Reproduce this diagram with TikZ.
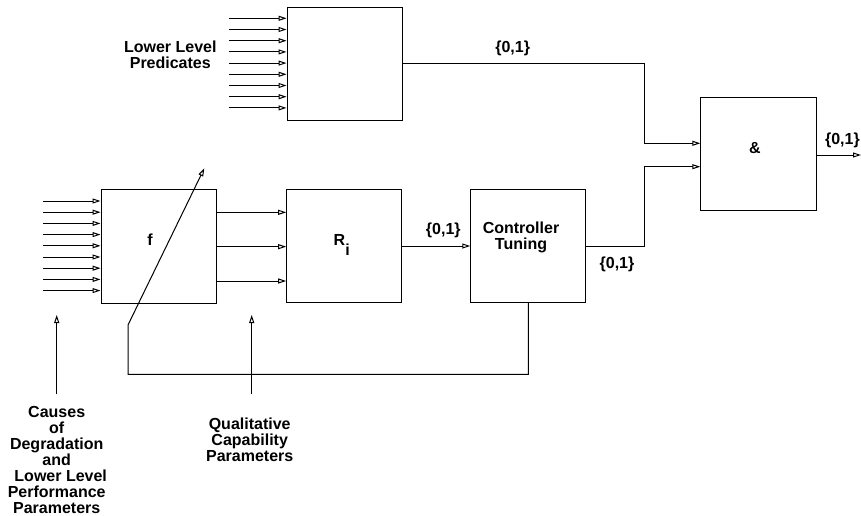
\documentclass[tikz,border=0pt]{standalone}
\usepackage{fontspec}
\setmainfont{Liberation Sans}
\usetikzlibrary{arrows.meta}
\begin{document}
\begin{tikzpicture}[x=1pt,y=-1pt,
  box/.style={draw, line width=1pt, minimum width=115pt, minimum height=113pt, inner sep=0pt},
  lbl/.style={font=\fontsize{16}{16}\selectfont\bfseries, align=center, inner sep=0pt},
  arr/.style={line width=1pt, -{Triangle[open,length=8pt,width=5pt]}},
  ln/.style={line width=1pt}]
\useasboundingbox (0,0) rectangle (861,516);
% boxes
\node[box] (pred) at (344.5,63.7) {};
\node[box, minimum height=114pt] (f) at (158.5,246.3) {};
\node[box] (R) at (344.2,246) {};
\node[box] (ctrl) at (528.3,246) {};
\node[box, minimum width=116pt] (and) at (758.8,154.2) {};
% labels
\node[lbl] (flbl) at (150,240) {f};
\node[lbl, anchor=base west] (rlbl) at (333.5,245) {R\raisebox{-10pt}{i}};
\node[lbl] (clbl) at (521,237) {Controller\\Tuning};
\node[lbl] (albl) at (755,148.3) {\&};
\node[lbl] (plbl) at (170.3,55) {Lower Level\\Predicates};
\node[lbl] (o1) at (512.7,48.3) {\{0,1\}};
\node[lbl] (o2) at (443.3,230) {\{0,1\}};
\node[lbl] (o3) at (617,264) {\{0,1\}};
\node[lbl, anchor=east] (o4) at (860,140.7) {\{0,1\}};
\node[lbl] (cause) at (56.7,459.5) {Causes\\of\\Degradation\\and\\\hspace*{8pt}Lower Level\\Performance\\Parameters};
\node[lbl] (qual) at (249.7,439.3) {Qualitative\\Capability\\Parameters};
% input arrows
\foreach \k in {0,...,8} {
  \coordinate (p\k) at (229, {18.3+11.2*\k});
  \draw[arr] (p\k) -- (p\k -| pred.west);
  \coordinate (q\k) at (43.3, {201+11.2*\k});
  \draw[arr] (q\k) -- (q\k -| f.west);
}
% f -> R
\foreach \y/\n in {212.3/a,246.7/b,281/c} {
  \coordinate (fo\n) at (216,\y);
  \draw[arr] (fo\n -| f.east) -- (fo\n -| R.west);
}
% R -> controller
\draw[arr] (R.east) -- (ctrl.west);
% predicates -> and
\coordinate (ain1) at (701,143.3);
\coordinate (ain2) at (701,166.7);
\draw[arr] (pred.east) -| (644.3,100) |- (ain1 -| and.west);
\draw[arr] (ctrl.east) -| (644.3,200) |- (ain2 -| and.west);
% and output
\coordinate (out) at (861,155);
\draw[arr] (out -| and.east) -- (out);
% feedback
\coordinate (fb1) at (128,374.3);
\coordinate (fb2) at (128,325);
\coordinate (tip) at (204.3,168.3);
\draw[arr] (ctrl.south) |- (fb1) -- (fb2) -- (tip);
% upward arrows
\coordinate (u1) at (56.7,394.3);
\coordinate (u1t) at (56.7,315);
\coordinate (u2) at (251.7,394.3);
\coordinate (u2t) at (251.7,315);
\draw[arr] (u1) -- (u1t);
\draw[arr] (u2) -- (u2t);
\end{tikzpicture}
\end{document}
